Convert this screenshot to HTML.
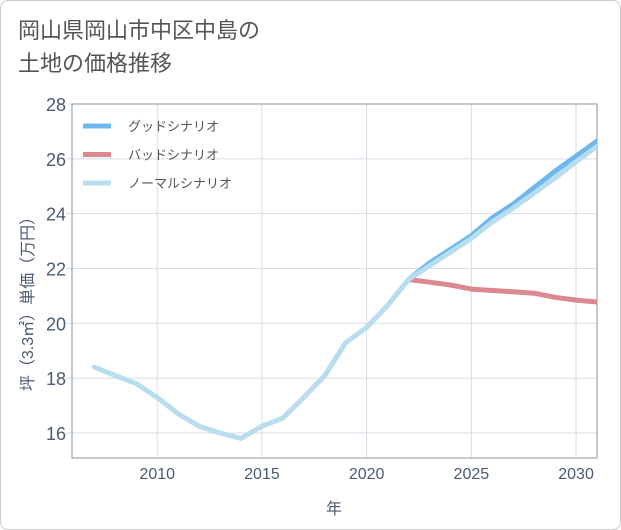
<!DOCTYPE html>
<html><head><meta charset="utf-8">
<style>
body{margin:0;background:#fff;}
#wrap{position:relative;width:621px;height:530px;font-family:"Liberation Sans","Noto Sans CJK JP",sans-serif;}
#frame{position:absolute;left:0;top:0;width:619px;height:528px;border:1px solid #ccc;border-radius:8px;background:#fff;}
#title{position:absolute;left:18px;top:14px;font-size:22px;line-height:33px;color:#555;}
</style></head><body>
<div id="wrap">
<div id="frame"></div>
<div id="title">岡山県岡山市中区中島の<br>土地の価格推移</div>
<svg id="chart" width="621" height="530" style="position:absolute;left:0;top:0"><defs><clipPath id="pc"><rect x="72" y="104" width="525" height="354"/></clipPath></defs></svg>
</div>
<script>
const years=[2007,2008,2009,2010,2011,2012,2013,2014,2015,2016,2017,2018,2019,2020,2021,2022,2023,2024,2025,2026,2027,2028,2029,2030,2031];
const normalValues=[18.4,18.1,17.8,17.3,16.7,16.25,16.0,15.8,16.25,16.55,17.3,18.1,19.3,19.85,20.65,21.6,22.1,22.6,23.1,23.7,24.2,24.75,25.3,25.9,26.45];
const goodYears=[2022,2023,2024,2025,2026,2027,2028,2029,2030,2031];
const goodValues=[21.6,22.2,22.7,23.2,23.85,24.35,24.95,25.55,26.1,26.65];
const badYears=[2022,2023,2024,2025,2026,2027,2028,2029,2030,2031];
const badValues=[21.6,21.5,21.4,21.25,21.2,21.15,21.1,20.95,20.85,20.78];
const xTicks=[2010,2015,2020,2025,2030];
const yTicks=[16,18,20,22,24,26,28];
const seriesNames=["グッドシナリオ","バッドシナリオ","ノーマルシナリオ"];

const L=72,R=597,T=104,B=458;
const X0=2005.93,X1=2031,Y0=15.09,Y1=28;
const x=v=>L+(v-X0)/(X1-X0)*(R-L);
const y=v=>B-(v-Y0)/(Y1-Y0)*(B-T);
const svg=document.getElementById('chart');
const NS='http://www.w3.org/2000/svg';
function mk(tag,attrs,parent){const e=document.createElementNS(NS,tag);for(const k in attrs)e.setAttribute(k,attrs[k]);(parent||svg).appendChild(e);return e;}

for(const t of xTicks){
 const g=mk('line',{x1:x(t),x2:x(t),y1:T,y2:B,stroke:'#d6dee6','stroke-width':1});
 
 
 const tx=mk('text',{x:x(t),y:B+21,'text-anchor':'middle','font-size':16,fill:'#4a5a70'});
 tx.textContent=t;
 
 
}
for(const t of yTicks){
 const g=mk('line',{x1:L-6,x2:R,y1:y(t),y2:y(t),stroke:'#d6dee6','stroke-width':1});
 
 
 const tx=mk('text',{x:L-6,y:y(t)+7,'text-anchor':'end','font-size':18,fill:'#4a5a70'});
 tx.textContent=t;
 
 
}
const box=mk('rect',{x:L,y:T,width:R-L,height:B-T,fill:'none',stroke:'#8a94a0','stroke-width':1});



function line(xs,vs,color,name){
 const d=xs.map((v,i)=>(i?'L':'M')+x(v).toFixed(1)+','+y(vs[i]).toFixed(1)).join('');
 const p=mk('path',{d:d,fill:'none',stroke:color,'stroke-width':5,'stroke-linejoin':'round','stroke-linecap':'round','clip-path':'url(#pc)'});
 
 
}
line(goodYears,goodValues,'#6cb8ef','good-scenario-line');
line(badYears,badValues,'#dc8890','bad-scenario-line');
line(years,normalValues,'#b8ddee','normal-scenario-line');

const colors=['#6cb8ef','#dc8890','#b8ddee'];
seriesNames.forEach((n,i)=>{
 const yy=126+i*28.5;
 const l=mk('line',{x1:83,x2:111,y1:yy,y2:yy,stroke:colors[i],'stroke-width':5});
 
 
 const t=mk('text',{x:128,y:yy+5,'font-size':13,fill:'#555'});
 t.textContent=n;
 
 
});
const xt=mk('text',{x:334,y:514,'text-anchor':'middle','font-size':16,fill:'#4a5a70'});
xt.textContent='年';


const yt=mk('text',{x:0,y:0,'text-anchor':'middle','font-size':16,fill:'#4a5a70',transform:'translate(33,300) rotate(-90)'});
yt.textContent='坪（3.3㎡）単価（万円）';


</script>
</body></html>
